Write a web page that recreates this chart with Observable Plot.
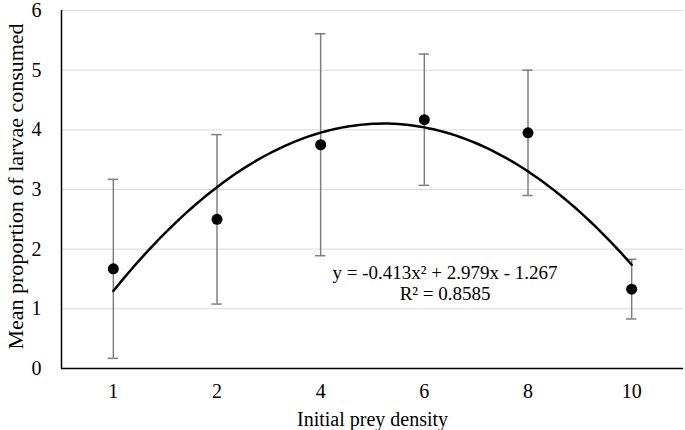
<!DOCTYPE html>
<html>
<head>
<meta charset="utf-8">
<script src="https://cdn.jsdelivr.net/npm/d3@7"></script>
<script src="https://cdn.jsdelivr.net/npm/@observablehq/plot@0.6"></script>
<style>
  html, body { margin: 0; padding: 0; background: #fff; }
  #chart svg { display: block; }
</style>
</head>
<body>
<div id="chart"></div>
<script>
// Categories (initial prey density), evenly spaced as in the reference
const densities = ["1", "2", "4", "6", "8", "10"];
// Mean proportion of larvae consumed
const means = [1.67, 2.50, 3.75, 4.17, 3.95, 1.33];
// Error bar half-widths
const errors = [1.50, 1.42, 1.86, 1.10, 1.05, 0.50];
// Polynomial trendline coefficients (a x^2 + b x + c), x = category position 1..6
const trendCoefficients = [-0.413, 2.979, -1.267];
const equationLabel = "y = -0.413x² + 2.979x - 1.267";
const r2Label = "R² = 0.8585";
const yTicks = [0, 1, 2, 3, 4, 5, 6];

const data = densities.map((d, i) => ({
  pos: i + 1, label: d, mean: means[i],
  lo: means[i] - errors[i], hi: means[i] + errors[i]
}));
const caps = data.flatMap(d => [{pos: d.pos, v: d.lo}, {pos: d.pos, v: d.hi}]);

const [a, b, c] = trendCoefficients;
const trend = d3.range(1, 6.0001, 0.05).map(x => ({x, y: a * x * x + b * x + c}));

const font = "'Liberation Serif', 'Times New Roman', serif";
const capHalf = 0.05;

const chart = Plot.plot({
  width: 685,
  height: 430,
  marginLeft: 61,
  marginRight: 2,
  marginTop: 10,
  marginBottom: 62,
  style: {fontFamily: font, fontSize: "20px", color: "#000", background: "#fff"},
  x: {domain: [0.5, 6.5]},
  y: {domain: [0, 6]},
  marks: [
    Plot.gridY(yTicks.filter(t => t > 0), {stroke: "#d9d9d9", strokeOpacity: 1, strokeWidth: 1}),
    Plot.axisY(yTicks, {tickSize: 0, tickPadding: 20, tickFormat: d => String(d), label: null, fontSize: 20}),
    Plot.axisX([1, 2, 3, 4, 5, 6], {tickFormat: d => densities[d - 1], tickSize: 0, tickPadding: 15, label: null, fontSize: 20}),
    Plot.text(["Initial prey density"], {frameAnchor: "bottom", dy: 57, fontSize: 20}),
    Plot.text(["Mean proportion of larvae consumed"], {frameAnchor: "left", textAnchor: "middle", dx: -46, dy: -3, rotate: -90, fontSize: 22}),
    Plot.ruleY([0], {stroke: "#000", strokeWidth: 1.5}),
    Plot.ruleX([0.5], {stroke: "#000", strokeWidth: 1.5}),
    Plot.ruleX(data, {x: "pos", y1: "lo", y2: "hi", stroke: "#7f7f7f", strokeWidth: 1.5}),
    Plot.ruleY(caps, {y: "v", x1: d => d.pos - capHalf, x2: d => d.pos + capHalf, stroke: "#7f7f7f", strokeWidth: 1.5}),
    Plot.line(trend, {x: "x", y: "y", stroke: "#000", strokeWidth: 2.5}),
    Plot.dot(data, {x: "pos", y: "mean", r: 5.5, fill: "#000", stroke: "none"}),
    Plot.text([equationLabel], {x: () => 4.2, y: () => 1.6, fontSize: 19, fill: "#000"}),
    Plot.text([r2Label], {x: () => 4.2, y: () => 1.25, fontSize: 19, fill: "#000"})
  ]
});
document.getElementById("chart").appendChild(chart);
</script>
</body>
</html>
